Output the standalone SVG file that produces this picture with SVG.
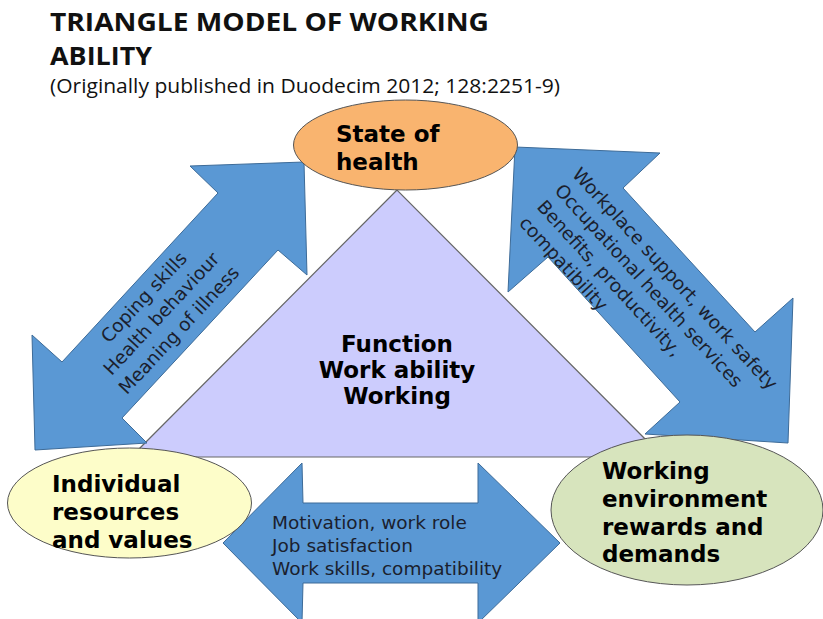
<svg xmlns="http://www.w3.org/2000/svg" width="823" height="619" viewBox="0 0 823 619">
<style>
.title{font-family:"Open Sans","Liberation Sans",sans-serif;font-weight:bold;font-size:25.5px;fill:#111}
.sub{font-family:"Open Sans","Liberation Sans",sans-serif;font-size:19.5px;fill:#111}
.lbl{font-family:"DejaVu Sans","Liberation Sans",sans-serif;font-weight:bold;font-size:23px;fill:#000}
.arr{font-family:"DejaVu Sans","Liberation Sans",sans-serif;font-size:18.5px;fill:#1b1f2e}
.bot{font-family:"DejaVu Sans","Liberation Sans",sans-serif;font-size:18.5px;fill:#1b1f2e}
.blue{fill:#5a98d4;stroke:#3d6b98;stroke-width:1}
.ell{stroke:#555;stroke-width:1}
</style>
<rect width="823" height="619" fill="#fff"/>
<g id="title">
<text class="title" x="50" y="31" textLength="439" lengthAdjust="spacingAndGlyphs">TRIANGLE MODEL OF WORKING</text>
<text class="title" x="50" y="65" textLength="102" lengthAdjust="spacingAndGlyphs">ABILITY</text>
<text class="sub" x="50" y="93" textLength="510" lengthAdjust="spacingAndGlyphs">(Originally published in Duodecim 2012; 128:2251-9)</text>
</g>
<g id="function">
<polygon points="397,190 131,457 663,457" fill="#ccccfd" stroke="#666" stroke-width="1.2"/>
<text class="lbl" text-anchor="middle" x="397" y="352">Function</text>
<text class="lbl" text-anchor="middle" x="397" y="378">Work ability</text>
<text class="lbl" text-anchor="middle" x="397" y="404">Working</text>
</g>
<g id="connectors">
<g id="arrow-left">
<polygon class="blue" points="304,162 307,275 278,250 122,418 147,443 35,450 32,335 62,362 218,193 190,166"/>
<g transform="translate(166,318) rotate(-47)">
<text class="arr" text-anchor="middle" x="0" y="-24">Coping skills</text>
<text class="arr" text-anchor="middle" x="0" y="0">Health behaviour</text>
<text class="arr" text-anchor="middle" x="0" y="24">Meaning of illness</text>
</g>
</g>
<g id="arrow-right">
<polygon class="blue" points="515,147 660,153 623,188 755,332 793,298 788,443 645,434 680,402 548,257 508,292"/>
<g transform="rotate(47.5)">
<text class="arr" x="515" y="-303">Workplace support, work safety</text>
<text class="arr" x="515" y="-279">Occupational health services</text>
<text class="arr" x="515" y="-255">Benefits, productivity,</text>
<text class="arr" x="515" y="-231">compatibility</text>
</g>
</g>
<g id="arrow-bottom">
<polygon class="blue" points="223,543 302,463 303,503 478,503 478,463 560,543 478,623 478,583 303,583 302,623"/>
<text class="bot" x="272" y="529">Motivation, work role</text>
<text class="bot" x="272" y="552">Job satisfaction</text>
<text class="bot" x="272" y="575">Work skills, compatibility</text>
</g>
</g>
<g id="state-of-health">
<ellipse class="ell" cx="405.5" cy="145" rx="112" ry="45" fill="#f9b46f"/>
<text class="lbl" x="336" y="142">State of</text>
<text class="lbl" x="336" y="170">health</text>
</g>
<g id="individual">
<ellipse class="ell" cx="129.5" cy="503" rx="122" ry="55" fill="#fdfdc9"/>
<text class="lbl" x="52" y="492">Individual</text>
<text class="lbl" x="52" y="520">resources</text>
<text class="lbl" x="52" y="548">and values</text>
</g>
<g id="working-environment">
<ellipse class="ell" cx="687" cy="510" rx="136" ry="75" fill="#d7e4bd"/>
<text class="lbl" x="602" y="479">Working</text>
<text class="lbl" x="602" y="507">environment</text>
<text class="lbl" x="602" y="535">rewards and</text>
<text class="lbl" x="602" y="562">demands</text>
</g>
</svg>
